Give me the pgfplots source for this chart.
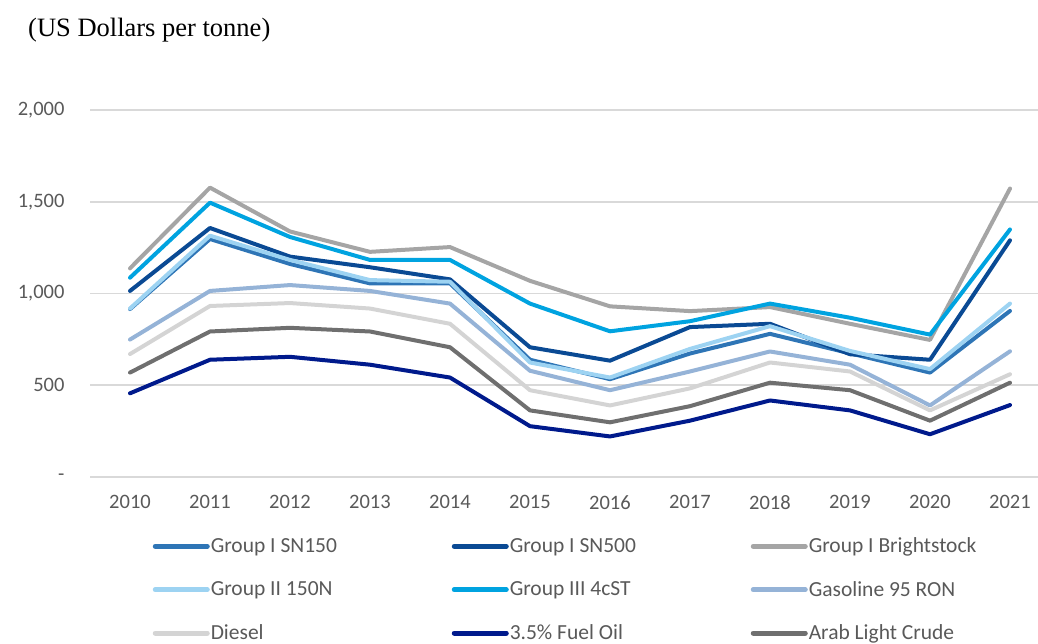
\documentclass[border=0pt]{standalone}
\usepackage{pgfplots}
\pgfplotsset{compat=1.18}
\usepackage{pgfplotstable}
\usepackage{fontspec}
\setmainfont{Carlito}
\newfontfamily\titlefont{Liberation Serif}
\definecolor{cSNa}{HTML}{2E75B6}
\definecolor{cSNb}{HTML}{0A4A94}
\definecolor{cBS}{HTML}{A5A5A5}
\definecolor{cIIa}{HTML}{9DD3F2}
\definecolor{cIII}{HTML}{00A3E0}
\definecolor{cGas}{HTML}{95B3D7}
\definecolor{cDie}{HTML}{D4D4D4}
\definecolor{cFO}{HTML}{001A8C}
\definecolor{cAL}{HTML}{6F6F6F}
\definecolor{txt}{HTML}{595959}
\pgfplotstableread{
year SNa SNb BS IIa III Gas Die FO AL
2010 915 1014 1137 918 1086 749 670 456 569
2011 1297 1357 1577 1315 1495 1014 932 639 793
2012 1161 1201 1338 1183 1308 1046 948 655 813
2013 1055 1143 1227 1073 1183 1014 918 612 793
2014 1055 1077 1253 1064 1183 945 835 542 707
2015 639 707 1069 624 945 579 473 277 363
2016 533 634 930 542 794 473 390 221 298
2017 673 817 904 698 849 575 483 307 386
2018 780 835 926 822 945 684 624 417 514
2019 674 669 835 687 868 612 575 363 473
2020 569 639 747 588 776 390 363 233 307
2021 905 1290 1572 945 1349 685 560 392 514
}\datatable
\begin{document}
\begin{tikzpicture}[x=1pt,y=1pt]
\useasboundingbox (0,0) rectangle (1038,-644);
\node[anchor=base west, font=\titlefont\fontsize{26.5}{30}\selectfont, inner sep=0] at (28,-37) {(US Dollars per tonne)};
\begin{axis}[
  at={(90pt,-477pt)}, anchor=south west,
  width=948pt, height=367pt, scale only axis,
  xmin=2009.5, xmax=2021.35, ymin=0, ymax=2000,
  axis line style={draw=none},
  clip=false,
  xtick={2010,...,2021},
  xticklabels={2010,2011,2012,2013,2014,2015,2016,2017,2018,2019,2020,2021},
  ytick={0,500,1000,1500,2000},
  yticklabels={-,500,{1,000},{1,500},{2,000}},
  ymajorgrids, grid style={draw=black!15, line width=1.6pt},
  major tick length=0pt,
  tick style={draw=none},
  tick label style={font=\fontsize{20.5}{23}\selectfont, text=txt},
  yticklabel style={anchor=east, xshift=-22pt},
  xticklabel style={anchor=north, yshift=-15pt},
  every axis plot/.append style={line width=4pt, line join=round, line cap=round, mark=none},
  legend columns=3,
  legend cell align=left,
  legend image code/.code={\draw[#1, line width=5pt, line cap=round] (0pt,0pt) -- (52pt,0pt);},
  legend style={draw=none, fill=none, at={(0.066,-0.163)}, anchor=north west,
    inner sep=0pt, row sep=25pt,
    font=\fontsize{21.5}{24}\selectfont, text=txt,
    nodes={inner sep=1pt}},
]
\addplot[cSNa] table[x=year,y=SNa] {\datatable};
\addlegendentry{\makebox[240pt][l]{Group I SN150}}
\addplot[cSNb] table[x=year,y=SNb] {\datatable};
\addlegendentry{\makebox[240pt][l]{Group I SN500}}
\addplot[cBS] table[x=year,y=BS] {\datatable};
\addlegendentry{\makebox[240pt][l]{Group I Brightstock}}
\addplot[cIIa] table[x=year,y=IIa] {\datatable};
\addlegendentry{\makebox[240pt][l]{Group II 150N}}
\addplot[cIII] table[x=year,y=III] {\datatable};
\addlegendentry{\makebox[240pt][l]{Group III 4cST}}
\addplot[cGas] table[x=year,y=Gas] {\datatable};
\addlegendentry{\makebox[240pt][l]{Gasoline 95 RON}}
\addplot[cDie] table[x=year,y=Die] {\datatable};
\addlegendentry{\makebox[240pt][l]{Diesel}}
\addplot[cFO] table[x=year,y=FO] {\datatable};
\addlegendentry{\makebox[240pt][l]{3.5\% Fuel Oil}}
\addplot[cAL] table[x=year,y=AL] {\datatable};
\addlegendentry{\makebox[240pt][l]{Arab Light Crude}}
\end{axis}
\end{tikzpicture}
\end{document}
